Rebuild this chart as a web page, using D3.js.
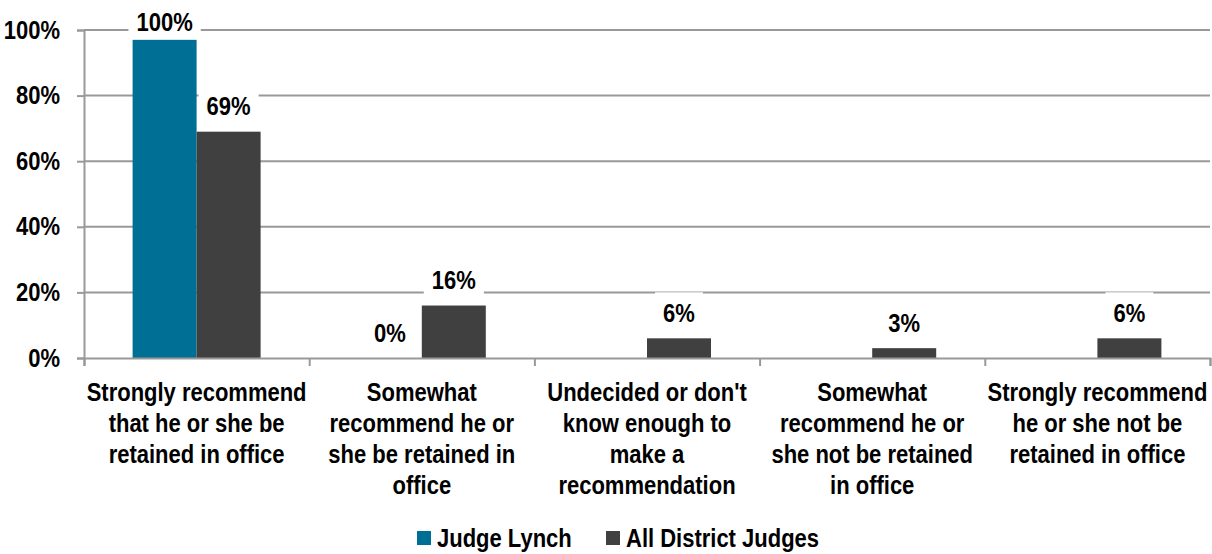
<!DOCTYPE html>
<html>
<head>
<meta charset="utf-8">
<script src="https://cdn.jsdelivr.net/npm/d3@7"></script>
<style>
  body { margin: 0; background: #fff; }
  text { font-family: "Liberation Sans Narrow", "Arial Narrow", "Liberation Sans", Arial, sans-serif; font-weight: bold; fill: #000; }
</style>
</head>
<body>
<svg id="chart"></svg>
<script>
// data
const categories = [
  ["Strongly recommend", "that he or she be", "retained in office"],
  ["Somewhat", "recommend he or", "she be retained in", "office"],
  ["Undecided or don't", "know enough to", "make a", "recommendation"],
  ["Somewhat", "recommend he or", "she not be retained", "in office"],
  ["Strongly recommend", "he or she not be", "retained in office"]
];
const seriesNames = ["Judge Lynch", "All District Judges"];
const lynchValues = [97, 0, 0, 0, 0];
const lynchLabels = ["100%", "0%", "", "", ""];
const allValues = [69, 16, 6, 3, 6];
const allLabels = ["69%", "16%", "6%", "3%", "6%"];
const yTicks = [0, 20, 40, 60, 80, 100];
const colors = ["#006f96", "#404040"];

const config = {
  width: 1212,
  height: 554,
  margin: {top: 30, right: 2, bottom: 196, left: 84}
};

// the reference uses a narrow face; squeeze the regular one
const squeeze = 0.88;
const fontSize = "25px";
function condense(sel) {
  sel.each(function () {
    const t = d3.select(this);
    const xx = +t.attr("x") || 0;
    const prev = t.attr("transform") || "";
    t.attr("x", 0)
      .attr("transform", `${prev} translate(${xx},0) scale(${squeeze},1)`);
  });
}

const svg = d3.select("#chart")
  .attr("width", config.width)
  .attr("height", config.height);

const innerW = config.width - config.margin.left - config.margin.right;
const innerH = config.height - config.margin.top - config.margin.bottom;

const g = svg.append("g")
  .attr("transform", `translate(${config.margin.left},${config.margin.top})`);

const x0 = d3.scaleBand()
  .domain(d3.range(categories.length))
  .range([0, innerW])
  .paddingInner(0)
  .paddingOuter(0);

const x1 = d3.scaleBand()
  .domain([0, 1])
  .range([x0.bandwidth() / 2 - 64, x0.bandwidth() / 2 + 64]);

const y = d3.scaleLinear().domain([0, 100]).range([innerH, 0]);

// grid lines + y axis
const yAxis = d3.axisLeft(y)
  .tickValues(yTicks)
  .tickSize(7)
  .tickPadding(17)
  .tickFormat(d => d + "%");
const ya = g.append("g").call(yAxis);
ya.select(".domain").attr("stroke", "#999").attr("stroke-width", 2);
ya.selectAll(".tick line").attr("stroke", "#999").attr("stroke-width", 2);
ya.selectAll(".tick text").attr("font-size", fontSize).attr("fill", "#000").call(condense);

g.append("g")
  .selectAll("line")
  .data(yTicks.filter(d => d > 0))
  .join("line")
  .attr("x1", 0)
  .attr("x2", innerW)
  .attr("y1", d => y(d))
  .attr("y2", d => y(d))
  .attr("stroke", "#999")
  .attr("stroke-width", 2);

// bars
const rows = categories.map((c, i) => ({
  i: i,
  vals: [
    {s: 0, v: lynchValues[i], label: lynchLabels[i]},
    {s: 1, v: allValues[i], label: allLabels[i]}
  ]
}));

const cat = g.append("g")
  .selectAll("g")
  .data(rows)
  .join("g")
  .attr("transform", d => `translate(${x0(d.i)},0)`);

cat.selectAll("rect")
  .data(d => d.vals)
  .join("rect")
  .attr("x", d => x1(d.s))
  .attr("width", x1.bandwidth())
  .attr("y", d => y(d.v))
  .attr("height", d => innerH - y(d.v))
  .attr("fill", d => colors[d.s]);

// x axis
const xAxis = d3.axisBottom(d3.scaleLinear().domain([0, categories.length]).range([0, innerW]))
  .tickValues(d3.range(categories.length + 1))
  .tickSize(8)
  .tickFormat("");
const xa = g.append("g")
  .attr("transform", `translate(0,${innerH})`)
  .call(xAxis);
xa.select(".domain").attr("stroke", "#999").attr("stroke-width", 2);
xa.selectAll(".tick line").attr("stroke", "#999").attr("stroke-width", 2);

// data labels with white boxes
const lab = cat.selectAll("g.lab")
  .data(d => d.vals.filter(v => v.label !== ""))
  .join("g")
  .attr("class", "lab")
  .attr("transform", d => `translate(${x1(d.s) + x1.bandwidth() / 2},${Math.max(y(d.v) - 25, -8)})`);

lab.append("text")
  .attr("text-anchor", "middle")
  .attr("dy", "0.35em")
  .attr("font-size", fontSize)
  .text(d => d.label)
  .call(condense);

lab.each(function () {
  const t = d3.select(this).select("text");
  const w = t.node().getBBox().width * squeeze;
  d3.select(this).insert("rect", "text")
    .attr("x", -w / 2 - 8)
    .attr("y", -21)
    .attr("width", w + 16)
    .attr("height", 38)
    .attr("fill", "#fff");
});

// category labels
cat.append("text")
  .attr("text-anchor", "middle")
  .attr("font-size", fontSize)
  .attr("x", x0.bandwidth() / 2)
  .attr("transform", `translate(0,${innerH + 34})`)
  .call(condense)
  .selectAll("tspan")
  .data(d => categories[d.i])
  .join("tspan")
  .attr("x", 0)
  .attr("dy", (d, i) => i === 0 ? "0.35em" : "31px")
  .text(d => d);

// legend
const legend = svg.append("g")
  .attr("transform", "translate(417,538)");
const legendX = [0, 189];
const li = legend.selectAll("g")
  .data(seriesNames)
  .join("g")
  .attr("transform", (d, i) => `translate(${legendX[i]},0)`);
li.append("rect")
  .attr("x", 0)
  .attr("y", -7)
  .attr("width", 14)
  .attr("height", 14)
  .attr("fill", (d, i) => colors[i]);
li.append("text")
  .attr("x", 20)
  .attr("dy", "0.35em")
  .attr("font-size", fontSize)
  .text(d => d)
  .call(condense);
</script>
</body>
</html>
